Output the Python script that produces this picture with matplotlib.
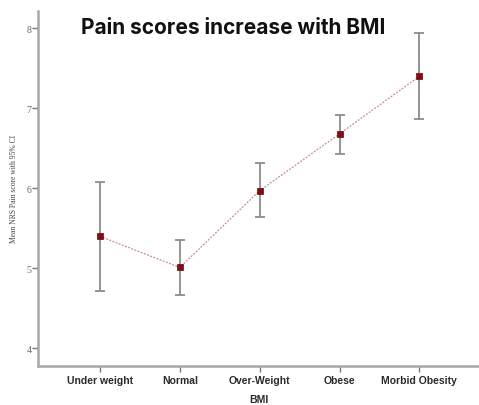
import matplotlib
matplotlib.use("Agg")
import matplotlib.pyplot as plt
import numpy as np

categories = ["Under weight", "Normal", "Over-Weight", "Obese", "Morbid Obesity"]
mean_scores = [5.40, 5.01, 5.97, 6.68, 7.40]
ci_lower = [4.72, 4.66, 5.64, 6.43, 6.86]
ci_upper = [6.08, 5.35, 6.31, 6.92, 7.94]
y_ticks = [4, 5, 6, 7, 8]

fig = plt.figure(figsize=(4.79, 4.06), dpi=100)
ax = fig.add_axes([0.08, 0.0968, 0.92, 0.8737])

x = np.arange(1, len(categories) + 1)
mean = np.array(mean_scores)
yerr = np.vstack([mean - np.array(ci_lower), np.array(ci_upper) - mean])

ax.errorbar(x, mean, yerr=yerr, fmt="none", ecolor="#8c8c8c", elinewidth=1.3,
            capsize=3.8, capthick=1.3, zorder=2)
ax.plot(x, mean, linestyle=(0, (1.5, 1.2)), color="#c98a8f", linewidth=0.9, zorder=3)
ax.plot(x, mean, linestyle="none", marker="s", markersize=3.8,
        markerfacecolor="#8b0a12", markeredgecolor="#5a0a0a", markeredgewidth=0.5, zorder=4)

ax.set_xlim(0.229, 5.746)
ax.set_ylim(3.7825, 8.216)
ax.set_yticks(y_ticks)
ax.set_yticklabels([str(t) for t in y_ticks], family="Liberation Serif", fontsize=7, color="#666666")
ax.set_xticks(x)
ax.set_xticklabels(categories, family="Liberation Sans", fontsize=7.5, fontweight="bold", color="#2a2a2a")

for side in ["top", "right"]:
    ax.spines[side].set_visible(False)
for side in ["left", "bottom"]:
    ax.spines[side].set_color("#a8a8a8")
    ax.spines[side].set_linewidth(1.8)

ax.tick_params(axis="y", length=4, width=1.0, color="#777777", pad=1)
ax.tick_params(axis="x", length=4, width=1.0, color="#777777", pad=3)

ax.set_xlabel("BMI", family="Liberation Sans", fontsize=7.5, fontweight="bold", color="#2a2a2a", labelpad=6)
ax.set_ylabel("Mean NRS Pain score with 95% CI", family="Liberation Serif", fontsize=5.5,
              color="#444444", labelpad=6)

fig.text(0.486, 0.932, "Pain scores increase with BMI", ha="center", va="center",
         family="Inter", fontweight="bold", fontsize=15, color="#111111")

fig.savefig("out.png", dpi=100)
